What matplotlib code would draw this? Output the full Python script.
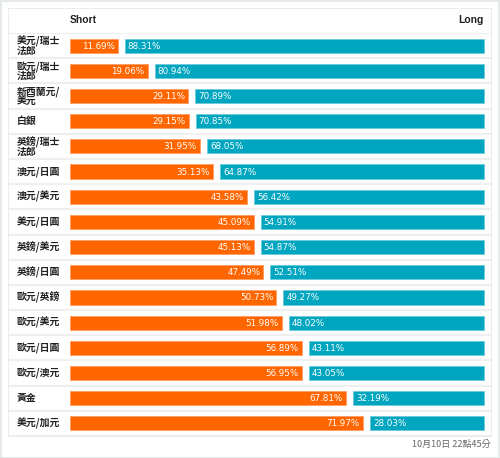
import matplotlib.pyplot as plt
from matplotlib.patches import Rectangle
import matplotlib.transforms as mtransforms

plt.rcParams['font.family'] = ['Noto Sans CJK TC', 'DejaVu Sans']

pairs = ['美元/瑞士\n法郎', '歐元/瑞士\n法郎', '新西蘭元/\n美元', '白銀', '英鎊/瑞士\n法郎',
         '澳元/日圓', '澳元/美元', '美元/日圓', '英鎊/美元', '英鎊/日圓', '歐元/英鎊',
         '歐元/美元', '歐元/日圓', '歐元/澳元', '黃金', '美元/加元']
short_pct = [11.69, 19.06, 29.11, 29.15, 31.95, 35.13, 43.58, 45.09, 45.13, 47.49,
             50.73, 51.98, 56.89, 56.95, 67.81, 71.97]
long_pct = [88.31, 80.94, 70.89, 70.85, 68.05, 64.87, 56.42, 54.91, 54.87, 52.51,
            49.27, 48.02, 43.11, 43.05, 32.19, 28.03]
timestamp = '10月10日 22點45分'

orange = '#ff6600'
teal = '#00a5bf'
W, H = 500, 458

fig = plt.figure(figsize=(W / 100, H / 100), dpi=100)
fig.patch.set_facecolor('white')

# outer frame and panel frame
fig.add_artist(Rectangle((0.5 / W, 0.5 / H), 1 - 1.5 / W, 1 - 1.5 / H, transform=fig.transFigure,
                         fill=False, edgecolor='#dfe6e6', linewidth=1.2))
fig.add_artist(Rectangle((8 / W, (H - 436) / H), 483 / W, 428 / H, transform=fig.transFigure,
                         fill=False, edgecolor='#e8eded', linewidth=0.8))

# axes spans the panel width, rows from header line down to panel bottom
ax = fig.add_axes([8 / W, (H - 436) / H, 483 / W, 403 / H])
ax.set_axis_off()
px = 101.72 / 414  # data units per pixel
gap = 7 * px
ax.set_xlim(-62 * px, 100 + gap + 7 * px)
n = len(pairs)
ax.set_ylim(n - 0.5, -0.5)

ys = list(range(n))
ax.barh(ys, short_pct, height=0.56, color=orange, edgecolor='#ff9c62', linewidth=0.6)
ax.barh(ys, long_pct, left=[s + gap for s in short_pct], height=0.56, color=teal,
        edgecolor='#6ccbda', linewidth=0.6)

for i in range(n + 1):
    ax.axhline(i - 0.5, color='#efefef', linewidth=1.6, zorder=0)

tr = mtransforms.blended_transform_factory(ax.transAxes, ax.transData)
for i, (name, s, l) in enumerate(zip(pairs, short_pct, long_pct)):
    ax.text(9 / 483, i, name, transform=tr, ha='left', va='center', fontsize=7.1,
            color='#222222', linespacing=0.85, fontweight='bold')
    ax.text(s - 3 * px, i + 0.02, f'{s:.2f}%', ha='right', va='center', fontsize=6.3,
            color='white', family='DejaVu Sans')
    ax.text(s + gap + 3 * px, i + 0.02, f'{l:.2f}%', ha='left', va='center', fontsize=6.3,
            color='white', family='DejaVu Sans')

# header
ax.text(0, -1.03, 'Short', ha='left', va='center', fontsize=7.5, fontweight='bold',
        color='#222222', family='Liberation Sans')
ax.text(100 + gap, -1.03, 'Long', ha='right', va='center', fontsize=7.5, fontweight='bold',
        color='#222222', family='Liberation Sans')

fig.text(491 / W, 1 - 444 / H, timestamp, ha='right', va='center', fontsize=6.5, color='#666666')

fig.savefig('out.png', dpi=100, facecolor='white')
